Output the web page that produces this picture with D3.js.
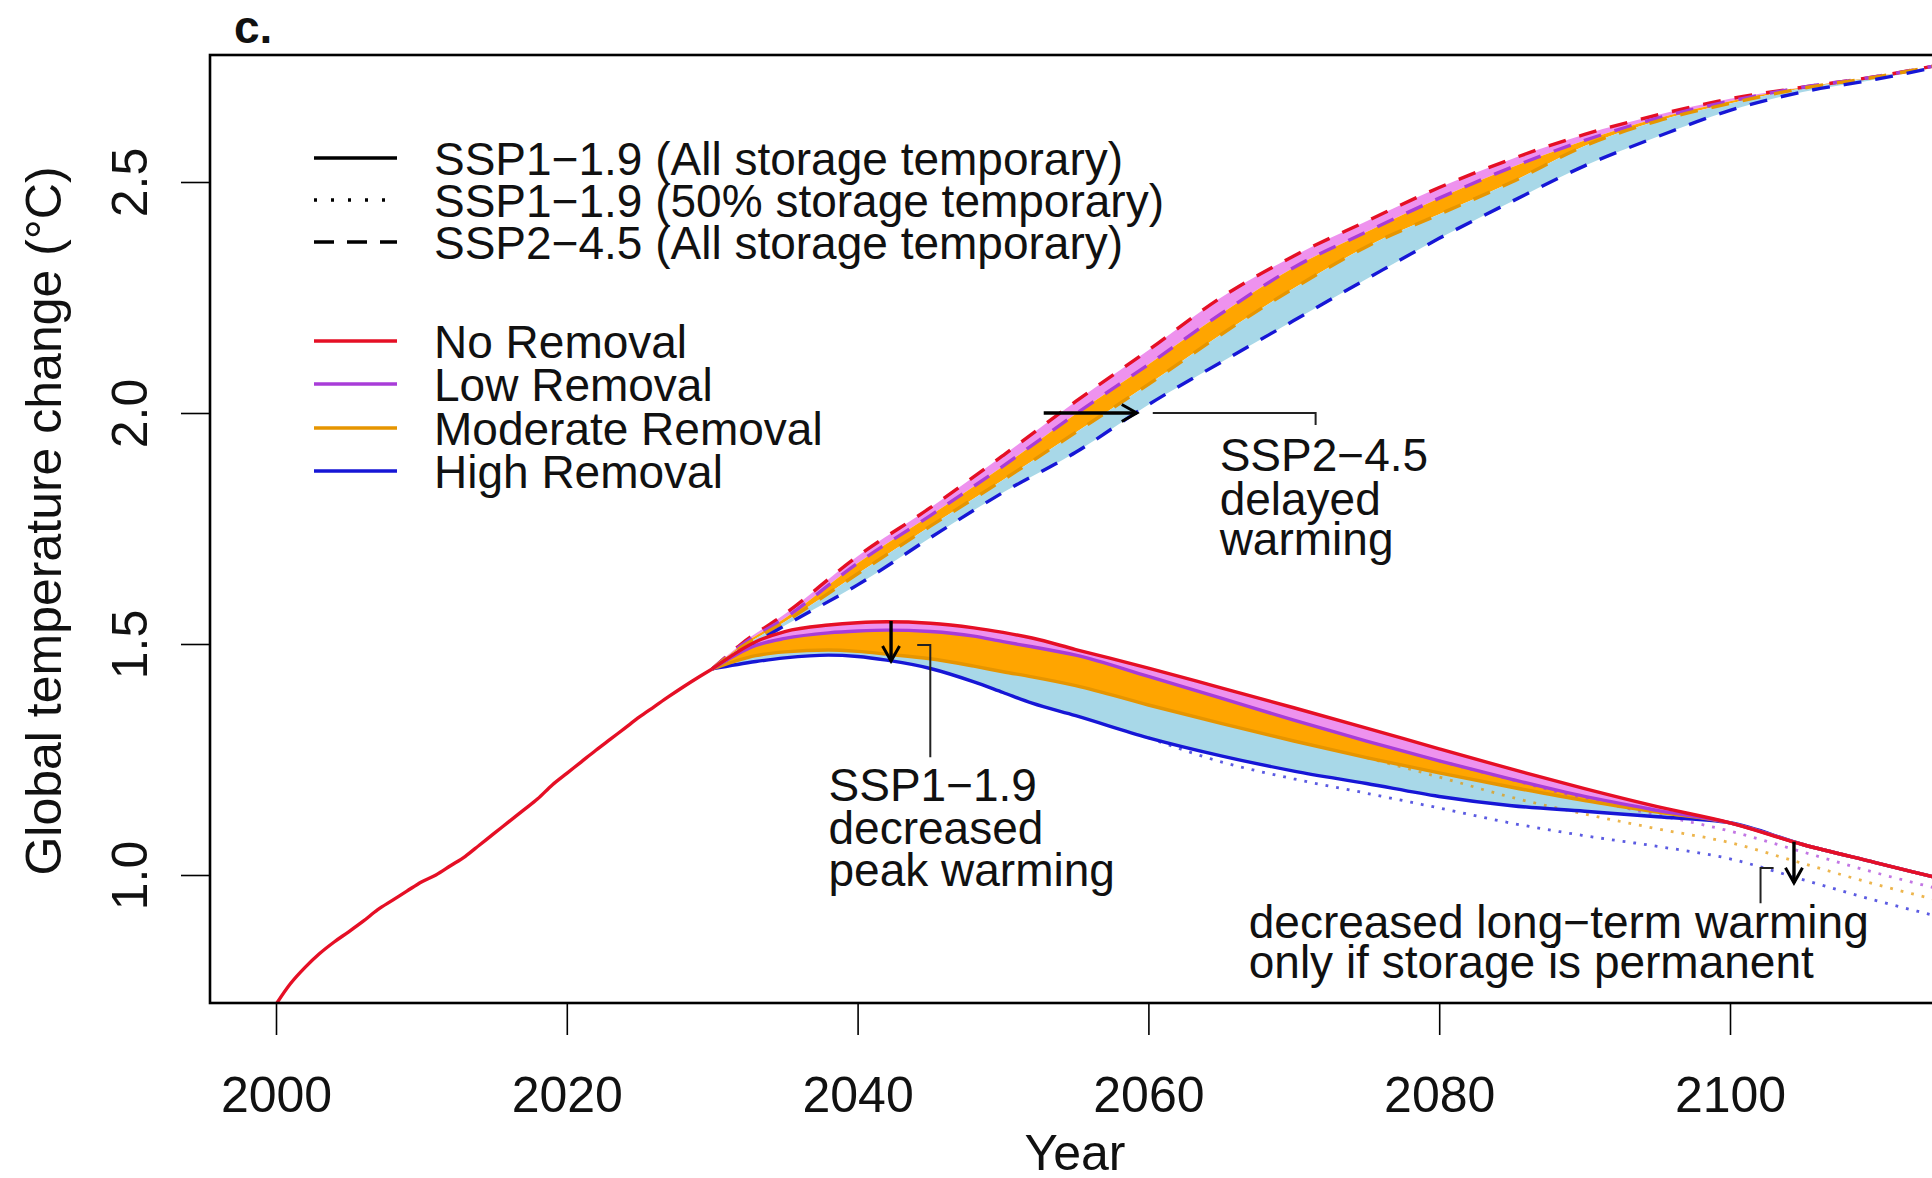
<!DOCTYPE html>
<html><head><meta charset="utf-8">
<script src="https://cdn.jsdelivr.net/npm/d3@7"></script>
<style>
html,body{margin:0;padding:0;background:#fff;}
svg{display:block;font-family:"Liberation Sans",Arial,Helvetica,sans-serif;}
</style></head><body>
<svg id="chart" width="1932" height="1178"></svg>
<script>
// ---------------- DATA ----------------
const histYears = [2000,2001,2002,2003,2004,2005,2006,2007,2008,2009,2010,2011,2012,2013,2014,2015,2016,2017,2018,2019,2020,2021,2022,2023,2024,2025,2026,2027,2028,2029,2030];
const histTemp  = [0.72,0.765,0.80,0.83,0.855,0.877,0.90,0.925,0.945,0.965,0.985,1.00,1.02,1.04,1.065,1.09,1.115,1.14,1.165,1.195,1.22,1.245,1.27,1.294,1.318,1.342,1.364,1.386,1.407,1.427,1.446];

// SSP1-1.9, all storage temporary (solid)
const ssp1Years  = [2030,2033,2035,2038,2040,2042,2045,2048,2050,2052,2055,2060,2065,2070,2075,2080,2085,2090,2095,2100,2105,2110,2115];
const ssp1None   = [1.446,1.505,1.527,1.541,1.546,1.548,1.545,1.535,1.525,1.513,1.488,1.448,1.405,1.362,1.318,1.273,1.229,1.187,1.148,1.113,1.066,1.027,0.988];
const ssp1Low    = [1.446,1.497,1.512,1.524,1.528,1.530,1.527,1.517,1.505,1.494,1.476,1.43,1.383,1.335,1.29,1.247,1.207,1.17,1.14,1.113,1.066,1.027,0.988];
const ssp1Mod    = [1.446,1.475,1.483,1.487,1.484,1.478,1.468,1.452,1.44,1.429,1.41,1.368,1.328,1.29,1.254,1.221,1.19,1.161,1.136,1.113,1.066,1.027,0.988];
const ssp1High   = [1.446,1.462,1.47,1.476,1.473,1.465,1.447,1.418,1.395,1.372,1.345,1.297,1.258,1.225,1.198,1.17,1.15,1.138,1.126,1.113,1.066,1.027,0.988];

// SSP1-1.9, 50% storage temporary (dotted)
const dotLowYears  = [2080,2085,2090,2095,2100,2105,2110,2115];
const dotLow       = [1.247,1.206,1.165,1.13,1.095,1.05,1.005,0.965];
const dotModYears  = [2075,2080,2085,2090,2095,2100,2105,2110,2115];
const dotMod       = [1.254,1.212,1.168,1.132,1.1,1.07,1.025,0.98,0.94];
const dotHighYears = [2060,2065,2070,2075,2080,2085,2090,2095,2100,2105,2110,2115];
const dotHigh      = [1.297,1.245,1.208,1.177,1.145,1.112,1.085,1.062,1.035,0.99,0.945,0.905];

// SSP2-4.5, all storage temporary (dashed)
const ssp2Years = [2030,2032,2035,2040,2045,2050,2055,2060,2065,2070,2075,2080,2085,2090,2095,2100,2105,2110,2115];
const ssp2None  = [1.446,1.50,1.565,1.69,1.795,1.908,2.025,2.136,2.25,2.34,2.415,2.488,2.55,2.603,2.645,2.68,2.705,2.728,2.757];
const ssp2Low   = [1.446,1.497,1.556,1.675,1.778,1.885,1.998,2.105,2.215,2.315,2.392,2.465,2.532,2.59,2.638,2.675,2.705,2.728,2.757];
const ssp2Mod   = [1.446,1.493,1.548,1.652,1.755,1.855,1.958,2.062,2.17,2.27,2.36,2.43,2.50,2.578,2.632,2.67,2.703,2.727,2.756];
const ssp2High  = [1.446,1.485,1.54,1.628,1.73,1.828,1.915,2.018,2.11,2.2,2.29,2.378,2.458,2.535,2.598,2.655,2.695,2.722,2.754];

const xTicks = [2000,2020,2040,2060,2080,2100];
const yTicks = [1.0,1.5,2.0,2.5];
const styleLabels = ["SSP1\u22121.9 (All storage temporary)","SSP1\u22121.9 (50% storage temporary)","SSP2\u22124.5 (All storage temporary)"];
const removalLabels = ["No Removal","Low Removal","Moderate Removal","High Removal"];

// ---------------- SETUP ----------------
const svg = d3.select("#chart");
const col = {red:"#e50f25", purple:"#a83cd8", orange:"#e69500", blue:"#1616d6",
             pink:"#ee92ee", orangeFill:"#ffa500", lblue:"#a8d8e8"};
const box = {left:210, top:55, bottom:1003, right:1940};
const x = d3.scaleLinear().domain([2000,2100]).range([276,1730]);
const y = d3.scaleLinear().domain([1.0,2.5]).range([875,182]);

const defs = svg.append("defs");
defs.append("clipPath").attr("id","clip")
  .append("rect").attr("x",box.left).attr("y",box.top)
  .attr("width",box.right-box.left).attr("height",box.bottom-box.top);
defs.append("marker").attr("id","ah").attr("viewBox","0 0 20 20")
  .attr("refX",17).attr("refY",10).attr("markerWidth",20).attr("markerHeight",20)
  .attr("markerUnits","userSpaceOnUse").attr("orient","auto")
  .append("path").attr("d","M2,1.5 L17,10 L2,18.5").attr("fill","none").attr("stroke","#000")
  .attr("stroke-width",3).attr("stroke-linejoin","miter");

const zip = (yrs, vals) => yrs.map((yr,i)=>({yr, v:vals[i]}));
const band = (yrs, hi, lo) => yrs.map((yr,i)=>({yr, hi:hi[i], lo:lo[i]}));
const line = d3.line().x(d=>x(d.yr)).y(d=>y(d.v)).curve(d3.curveMonotoneX);
const area = d3.area().x(d=>x(d.yr)).y0(d=>y(d.lo)).y1(d=>y(d.hi)).curve(d3.curveMonotoneX);

const plot = svg.append("g").attr("clip-path","url(#clip)");

// fills
[[ssp2Years,ssp2None,ssp2Low,col.pink],[ssp2Years,ssp2Low,ssp2Mod,col.orangeFill],[ssp2Years,ssp2Mod,ssp2High,col.lblue],
 [ssp1Years,ssp1None,ssp1Low,col.pink],[ssp1Years,ssp1Low,ssp1Mod,col.orangeFill],[ssp1Years,ssp1Mod,ssp1High,col.lblue]]
 .forEach(([yrs,hi,lo,c])=>{
   plot.append("path").datum(band(yrs,hi,lo)).attr("d",area).attr("fill",c).attr("stroke","none");
 });

// dotted lines
[[dotHighYears,dotHigh,col.blue],[dotModYears,dotMod,col.orange],[dotLowYears,dotLow,col.purple]].forEach(([yrs,v,c])=>{
  plot.append("path").datum(zip(yrs,v)).attr("d",line).attr("fill","none")
    .attr("stroke",c).attr("stroke-width",2.8).attr("stroke-dasharray","2.8,8").attr("opacity",0.7);
});

// SSP2 dashed lines
[[ssp2None,col.red],[ssp2Low,col.purple],[ssp2Mod,col.orange],[ssp2High,col.blue]].forEach(([v,c])=>{
  plot.append("path").datum(zip(ssp2Years,v)).attr("d",line).attr("fill","none")
    .attr("stroke",c).attr("stroke-width",3.4).attr("stroke-dasharray","18,14");
});

// SSP1 solid lines
[[ssp1High,col.blue],[ssp1Mod,col.orange],[ssp1Low,col.purple],[ssp1None,col.red]].forEach(([v,c])=>{
  plot.append("path").datum(zip(ssp1Years,v)).attr("d",line).attr("fill","none")
    .attr("stroke",c).attr("stroke-width",3.4);
});

// historical
plot.append("path").datum(zip(histYears,histTemp)).attr("d",line).attr("fill","none")
  .attr("stroke",col.red).attr("stroke-width",3.4);

// ---------------- ANNOTATIONS ----------------
const ann = svg.append("g");
function arrow(x1,y1,x2,y2){
  ann.append("line").attr("x1",x(x1)).attr("y1",y(y1)).attr("x2",x(x2)).attr("y2",y(y2))
    .attr("stroke","#000").attr("stroke-width",3.4).attr("marker-end","url(#ah)");
}
function leader(pts){
  ann.append("path").attr("d",d3.line().x(d=>x(d[0])).y(d=>y(d[1]))(pts))
    .attr("fill","none").attr("stroke","#222").attr("stroke-width",2);
}
function label(yr, tempLines, lines){
  lines.forEach((s,i)=>{
    ann.append("text").attr("x",x(yr)).attr("y",y(tempLines[i])).attr("dy","0.36em")
      .attr("font-size",46).attr("fill","#111").text(s);
  });
}
// SSP2 delayed warming
arrow(2052.8,2.0,2059.2,2.0);
leader([[2060.3,2.0],[2071.5,2.0],[2071.5,1.974]]);
label(2064.9,[1.91,1.815,1.728],["SSP2\u22124.5","delayed","warming"]);
// SSP1 decreased peak warming
arrow(2042.3,1.55,2042.3,1.463);
leader([[2044.1,1.498],[2045.0,1.498],[2045.0,1.255]]);
label(2038.0,[1.195,1.102,1.011],["SSP1\u22121.9","decreased","peak warming"]);
// long-term
arrow(2104.4,1.072,2104.4,0.983);
leader([[2102.1,0.939],[2102.1,1.015],[2103.0,1.015]]);
label(2066.9,[0.899,0.812],["decreased long\u2212term warming","only if storage is permanent"]);

// ---------------- LEGEND ----------------
const leg = svg.append("g");
const lx1 = 314, lx2 = 397, ltx = 434;
const styleRows = [158,200,242];
const styleDash = [null,"3,14","20,13"];
styleLabels.forEach((s,i)=>{
  leg.append("line").attr("x1",lx1).attr("x2",lx2).attr("y1",styleRows[i]).attr("y2",styleRows[i])
    .attr("stroke","#000").attr("stroke-width",3.4).attr("stroke-dasharray",styleDash[i]);
  leg.append("text").attr("x",ltx).attr("y",styleRows[i]).attr("dy","0.36em")
    .attr("font-size",46).attr("fill","#111").text(s);
});
const remRows = [341,384,428,471];
const remCols = [col.red,col.purple,col.orange,col.blue];
removalLabels.forEach((s,i)=>{
  leg.append("line").attr("x1",lx1).attr("x2",lx2).attr("y1",remRows[i]).attr("y2",remRows[i])
    .attr("stroke",remCols[i]).attr("stroke-width",3.4);
  leg.append("text").attr("x",ltx).attr("y",remRows[i]).attr("dy","0.36em")
    .attr("font-size",46).attr("fill","#111").text(s);
});

// ---------------- AXES ----------------
const xAxis = svg.append("g").attr("transform",`translate(0,${box.bottom})`)
  .call(d3.axisBottom(x).tickValues(xTicks).tickSize(32).tickFormat(d3.format("d")));
xAxis.select(".domain").remove();
xAxis.selectAll(".tick line").attr("stroke","#000").attr("stroke-width",1.6);
xAxis.selectAll(".tick text").attr("y",91).attr("dy","0.36em")
  .attr("font-size",50).attr("font-family","Liberation Sans, Arial, sans-serif").attr("fill","#111");

const yAxis = svg.append("g").attr("transform",`translate(${box.left},0)`)
  .call(d3.axisLeft(y).tickValues(yTicks).tickSize(29).tickFormat(d3.format(".1f")));
yAxis.select(".domain").remove();
yAxis.selectAll(".tick line").attr("stroke","#000").attr("stroke-width",1.6);
yAxis.selectAll(".tick text").attr("x",null).attr("dy",null)
  .attr("transform","translate(-81,0) rotate(-90)").attr("text-anchor","middle")
  .attr("dy","0.36em").attr("font-size",50).attr("font-family","Liberation Sans, Arial, sans-serif").attr("fill","#111");

// box
svg.append("rect").attr("x",box.left).attr("y",box.top).attr("width",box.right-box.left)
  .attr("height",box.bottom-box.top).attr("fill","none").attr("stroke","#000").attr("stroke-width",2.6);

// titles
svg.append("text").attr("x",1075).attr("y",1152).attr("dy","0.36em").attr("text-anchor","middle")
  .attr("font-size",50).attr("fill","#111").text("Year");
svg.append("text").attr("transform","translate(43,521) rotate(-90)").attr("text-anchor","middle")
  .attr("dy","0.36em").attr("font-size",50).attr("fill","#111").text("Global temperature change (\u00B0C)");
svg.append("text").attr("x",234).attr("y",43).attr("font-size",46).attr("font-weight","bold")
  .attr("fill","#111").text("c.");
</script>
</body></html>
